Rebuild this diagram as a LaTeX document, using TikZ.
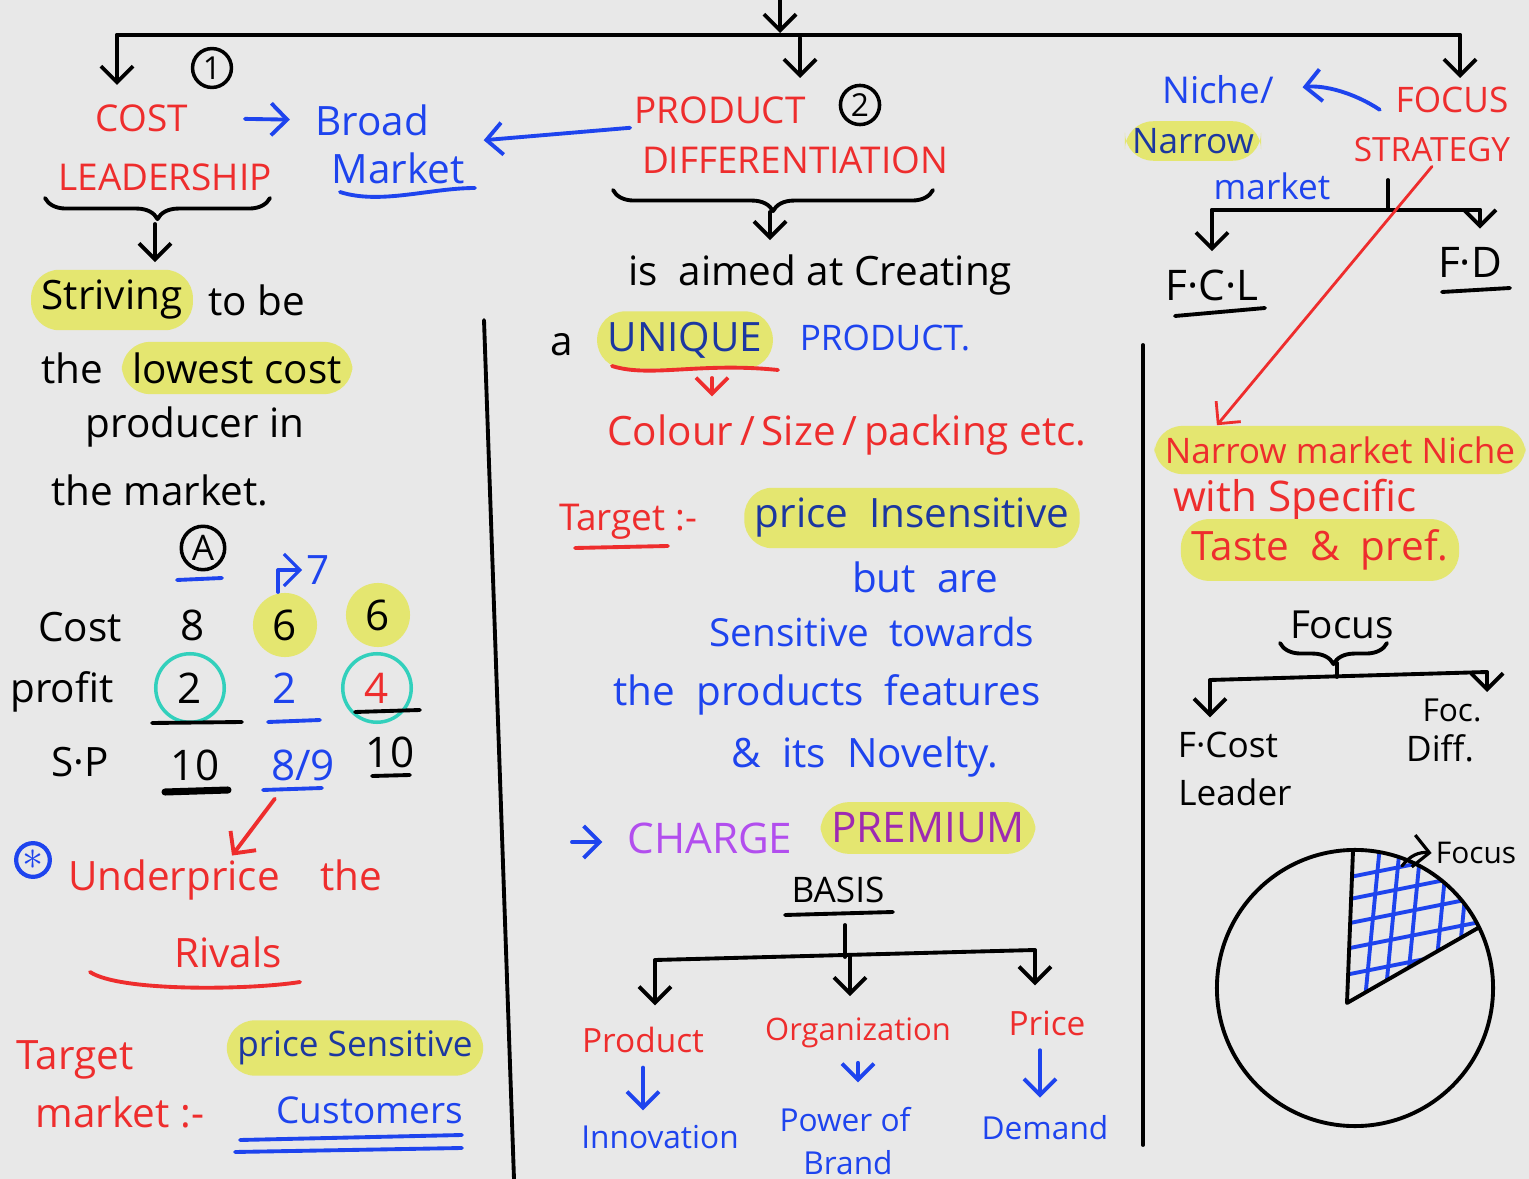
\documentclass[tikz,border=0pt]{standalone}
\usepackage{fontspec}
\setmainfont{Open Sans}
\usetikzlibrary{positioning,arrows.meta,decorations.pathreplacing}
\definecolor{paper}{RGB}{232,232,232}
\definecolor{nred}{RGB}{238,45,45}
\definecolor{nblue}{RGB}{30,68,238}
\definecolor{ndblue}{RGB}{28,55,160}
\definecolor{hly}{RGB}{228,230,112}
\definecolor{nteal}{RGB}{50,208,188}
\definecolor{npurple}{RGB}{178,78,238}
\definecolor{nplum}{RGB}{158,42,178}

\begin{document}
\begin{tikzpicture}[x=0.01cm, y=-0.01cm, >={Straight Barb[length=1.6mm, width=3.2mm]},
    every node/.style={font=\fontsize{11.5}{13}\selectfont, inner sep=1pt},
    pen/.style={line width=1.1pt, line cap=round, line join=round},
    redpen/.style={pen, draw=nred},
    bluepen/.style={pen, draw=nblue},
    hd/.style={text=nred, font=\fontsize{10.5}{12}\selectfont},
    hl/.style={fill=hly, rounded corners=8pt, inner sep=3pt},
    hldot/.style={circle, fill=hly, inner sep=2.5pt},
    ring/.style={circle, draw=nteal, line width=1pt, inner sep=3pt},
    num/.style={circle, draw, line width=1pt, inner sep=1pt, font=\fontsize{9}{9}\selectfont}]
  \useasboundingbox (0,0) rectangle (1529,1179);
  \fill[paper] (0,0) rectangle (1529,1179);

  % main split
  \coordinate (top) at (780,0);
  \coordinate (topj) at (780,33);
  \coordinate (barl) at (117,35);
  \coordinate (barm) at (800,38);
  \coordinate (barr) at (1460,35);
  \draw[pen,->] (top) -- (topj);
  \draw[pen] (barl) -- (barr);
  \draw[pen,->] (barl) -- (117,85);
  \draw[pen,->] (barm) -- (800,78);
  \draw[pen,->] (barr) -- (1460,78);

  % cost leadership
  \node[num] (one) at (212,68) {1};
  \node[hd] (cost) at (142,118) {COST};
  \node[hd] (lead) at (165,177) {LEADERSHIP};
  \node[text=nblue] (broad) at (372,120) {Broad};
  \node[text=nblue] (bmkt) at (398,168) {Market};
  \draw[bluepen] (340,192) .. controls (380,205) and (430,188) .. (475,188);
  \draw[bluepen,->, shorten <=15pt, shorten >=6pt] (cost.east) -- (broad.west);
  \draw[pen, decorate, decoration={brace, mirror, amplitude=6pt}] (45,198) -- (270,198);
  \coordinate (leadtip) at (155,224);

  \node[hl] (striv) at (112,300) {Striving};
  \node[right=3pt of striv] (tobe) {to be};
  \draw[pen,->, shorten >=2pt] (leadtip) -- (leadtip |- striv.north);
  \node (the1) at (72,368) {the};
  \node[hl, right=4pt of the1] (lowest) {lowest cost};
  \node (prodcr) at (195,427) {producer in};
  \node (themkt) at (160,490) {the market.};

  \node[num, font=\fontsize{10}{10}\selectfont] (circA) at (203,548) {A};
  \draw[bluepen] (177,580) -- (222,578);
  \node (costr) at (80,627) {Cost};
  \node[font=\fontsize{12}{14}\selectfont] (eight) at (193,625) {8};
  \node[hldot, font=\fontsize{12}{14}\selectfont] (sixa) at (285,625) {6};
  \node[hldot, font=\fontsize{12}{14}\selectfont] (sixb) at (378,615) {6};
  \node[text=nblue] (seven) at (318,570) {7};
  \draw[bluepen, line width=0.9pt, ->] ([xshift=-2pt]sixa.north) |- (seven.west);
  \node (profit) at (62,692) {profit};
  \node[ring, font=\fontsize{12}{14}\selectfont] (twoa) at (190,688) {2};
  \node[text=nblue, font=\fontsize{12}{14}\selectfont] (twob) at (285,688) {2};
  \node[ring, text=nred, font=\fontsize{12}{14}\selectfont] (four) at (377,688) {4};
  \draw[pen] (152,723) -- (242,722);
  \draw[bluepen] (268,722) -- (320,720);
  \draw[pen] (355,712) -- (420,710);
  \node (sp) at (80,762) {S·P};
  \node[font=\fontsize{12}{14}\selectfont] (tena) at (195,765) {10};
  \node[text=nblue, font=\fontsize{12}{14}\selectfont] (ninth) at (303,765) {8/9};
  \node[font=\fontsize{12}{14}\selectfont] (tenb) at (390,752) {10};
  \draw[pen, line width=2pt] (165,792) -- (228,790);
  \draw[bluepen] (263,790) -- (322,788);
  \draw[pen] (372,776) -- (410,775);

  \node[circle, draw=nblue, line width=1.2pt, inner sep=0.5pt, text=nblue] (star) at (33,860) {$\ast$};
  \node[text=nred] (under) at (225,880) {Underprice\quad the};
  \draw[redpen,->, shorten <=5pt] ([xshift=-5pt]ninth.south) -- ([xshift=2pt]under.north);
  \node[text=nred] (rivals) at (228,952) {Rivals};
  \draw[redpen] (90,972) .. controls (120,992) and (250,990) .. (300,982);
  \node[text=nred] (tgt) at (75,1060) {Target};
  \node[text=nred] (tmkt) at (120,1112) {market :-};
  \node[hl, text=ndblue, font=\fontsize{10}{12}\selectfont] (psens) at (355,1048) {price Sensitive};
  \node[text=nblue, font=\fontsize{10.5}{12}\selectfont] (cust) at (370,1110) {Customers};
  \draw[bluepen] (240,1140) -- (462,1135);
  \draw[bluepen] (235,1152) -- (462,1148);

  \draw[pen] (484,320) -- (514,1179);

  % product differentiation
  \node[hd] (prod) at (720,110) {PRODUCT};
  \node[num] (two) at (860,105) {2};
  \node[hd] (diff) at (795,160) {DIFFERENTIATION};
  \draw[bluepen,->] (prod.south west) -- ([shift={(15,-8)}]bmkt.north east);
  \draw[pen, decorate, decoration={brace, mirror, amplitude=6pt}] (613,190) -- (933,190);
  \coordinate (difftip) at (770,212);
  \node (aimed) at (820,275) {is\ \ aimed at Creating};
  \draw[pen,->, shorten >=3pt] (difftip) -- (difftip |- aimed.north);

  \node (art) at (562,345) {a};
  \node[hl, text=ndblue] (uniq) at (685,340) {UNIQUE};
  \node[text=nblue, font=\fontsize{10}{12}\selectfont] (uprod) at (885,338) {PRODUCT.};
  \draw[redpen] (612,366) .. controls (650,378) and (700,362) .. (778,370);
  \coordinate (uarr) at (712,378);
  \node[text=nred] (colour) at (847,435) {Colour\,/\,Size\,/\,packing etc.};
  \draw[redpen,->, shorten >=4pt] (uarr) -- (uarr |- colour.north);

  \node[text=nred, font=\fontsize{10.5}{12}\selectfont] (tgt2) at (628,522) {Target :-};
  \draw[redpen] (575,548) -- (668,546);
  \node[hl, text=ndblue] (pins) at (912,518) {price\ \ Insensitive};
  \node[text=nblue] (butare) at (925,577) {but\ \ are};
  \node[text=nblue, font=\fontsize{11}{13}\selectfont] (senst) at (872,632) {Sensitive\ \ towards};
  \node[text=nblue] (feat) at (827,695) {the\ \ products\ \ features};
  \node[text=nblue] (novel) at (865,757) {\&\ \ its\ \ Novelty.};

  \coordinate (chga) at (572,842);
  \node[text=npurple, font=\fontsize{12}{14}\selectfont] (charge) at (710,838) {CHARGE};
  \draw[bluepen,->, shorten >=6pt] (chga) -- (chga -| charge.west);
  \node[hl, text=nplum, font=\fontsize{12}{14}\selectfont] (prem) at (928,828) {PREMIUM};
  \node[font=\fontsize{10}{12}\selectfont] (basis) at (838,890) {BASIS};
  \draw[pen] (785,915) -- (893,912);

  \node[text=nred, font=\fontsize{9.5}{11}\selectfont] (prodb) at (643,1040) {Product};
  \node[text=nred, font=\fontsize{8.8}{11}\selectfont] (org) at (858,1033) {Organization};
  \node[text=nred, font=\fontsize{9.5}{11}\selectfont] (price) at (1047,1023) {Price};
  \coordinate (bsj) at (845,957);
  \coordinate (bsl) at (655,960);
  \coordinate (bsm) at (850,956);
  \coordinate (bsr) at (1035,950);
  \draw[pen] (845,925) -- (bsj);
  \draw[pen] (bsl) -- (bsr);
  \draw[pen,->, shorten >=5pt] (bsl) -- (bsl |- prodb.north);
  \draw[pen,->, shorten >=5pt] (bsm) -- (bsm |- org.north);
  \draw[pen,->, shorten >=6pt] (bsr) -- (bsr |- price.north);

  \node[text=nblue, font=\fontsize{9}{11}\selectfont] (innov) at (660,1137) {Innovation};
  \node[text=nblue, font=\fontsize{9}{11}\selectfont] (power) at (845,1120) {Power of};
  \node[text=nblue, font=\fontsize{9}{11}\selectfont] (brand) at (848,1163) {Brand};
  \node[text=nblue, font=\fontsize{9}{11}\selectfont] (demand) at (1045,1128) {Demand};
  \draw[bluepen,->, shorten <=3pt, shorten >=3pt] (prodb.south) -- (innov.north -| prodb.south);
  \draw[bluepen,->, shorten <=3pt, shorten >=6pt] (org.south) -- (power.north -| org.south);
  \draw[bluepen,->, shorten <=3pt, shorten >=4pt] ([xshift=-2pt]price.south) -- ([xshift=-2pt]price.south |- demand.north);

  % focus strategy
  \node[text=nblue, font=\fontsize{10.5}{12}\selectfont] (niche) at (1218,90) {Niche/};
  \node[hl, text=ndblue, font=\fontsize{10}{12}\selectfont, inner sep=2pt] (narrow) at (1193,141) {Narrow};
  \node[text=nblue, font=\fontsize{10}{12}\selectfont] (nmkt) at (1272,186) {market};
  \node[hd, font=\fontsize{10}{12}\selectfont] (focus) at (1452,100) {FOCUS};
  \node[hd, font=\fontsize{9.5}{12}\selectfont] (strat) at (1432,150) {STRATEGY};
  \draw[bluepen,->, shorten <=4pt, shorten >=7pt] ([yshift=-5pt]focus.west) to[bend right=20] (niche.east);

  \coordinate (stj) at (1388,210);
  \coordinate (stl) at (1212,210);
  \coordinate (str) at (1480,210);
  \node[font=\fontsize{12}{14}\selectfont] (fcl) at (1212,285) {F·C·L};
  \node[font=\fontsize{12}{14}\selectfont] (fd) at (1470,262) {F·D};
  \draw[pen] (1388,180) -- (stj);
  \draw[pen] (stl) -- (str);
  \draw[pen,->, shorten >=4pt] (stl) -- (stl |- fcl.north);
  \draw[pen,->, shorten >=4pt] (str) -- (str |- fd.north);
  \draw[pen] (1175,316) -- (1265,308);
  \draw[pen] (1442,292) -- (1510,288);

  \draw[pen] (1143,345) -- (1143,1145);

  \node[hl, text=nred, font=\fontsize{10}{12}\selectfont] (nmn) at (1340,450) {Narrow market Niche};
  \draw[redpen, line width=0.8pt, ->] (strat.south) -- ([xshift=18pt]nmn.north west);
  \node[text=nred, font=\fontsize{12}{14}\selectfont] (wspec) at (1295,500) {with Specific};
  \node[hl, text=nred, font=\fontsize{11.5}{13}\selectfont] (taste) at (1320,550) {Taste\ \ \&\ \ pref.};

  \node[font=\fontsize{11}{13}\selectfont] (focus2) at (1342,625) {Focus};
  \draw[pen, decorate, decoration={brace, mirror, amplitude=6pt}] (1280,643) -- (1387,643);
  \coordinate (ftip) at (1337,663);
  \coordinate (fj) at (1337,677);
  \coordinate (fl) at (1210,680);
  \coordinate (fr) at (1487,672);
  \node[font=\fontsize{10}{12}\selectfont] (fcost) at (1228,745) {F·Cost};
  \node[font=\fontsize{10}{12}\selectfont] (leader) at (1235,792) {Leader};
  \node[font=\fontsize{9}{11}\selectfont] (focd) at (1452,710) {Foc.};
  \node[font=\fontsize{10}{12}\selectfont] (diffd) at (1440,748) {Diff.};
  \draw[pen] (ftip) -- (fj);
  \draw[pen] (fl) -- (fr);
  \draw[pen,->, shorten >=3pt] (fl) -- (fl |- fcost.north);
  \draw[pen,->] (fr) -- (1487,692);

  % pie
  \coordinate (pc) at (1355,988);
  \coordinate (sc) at (1347,1003);
  \coordinate (stop) at (1353,851);
  \coordinate (sright) at (1478,928);
  \begin{scope}
    \clip (sc) -- (stop) -- (1360,800) -- (1550,800) -- (1550,920) -- (sright) -- cycle;
    \clip (pc) circle (1.38cm);
    \foreach \h in {880,902,926,951,977}
      \draw[bluepen] (1335,\h) -- (1500,\h-33);
    \foreach \v in {1380,1400,1421,1448,1470}
      \draw[bluepen] (\v,845) -- (\v-15,1000);
  \end{scope}
  \draw[pen] (pc) circle (1.38cm);
  \draw[pen] (stop) -- (sc) -- (sright);
  \node[font=\fontsize{8.5}{10}\selectfont] (pfocus) at (1476,853) {Focus};
  \coordinate (pfa) at (1402,866);
  \draw[pen, line width=0.9pt, ->] (pfa) to[bend left=30] (pfocus.west);
\end{tikzpicture}
\end{document}
